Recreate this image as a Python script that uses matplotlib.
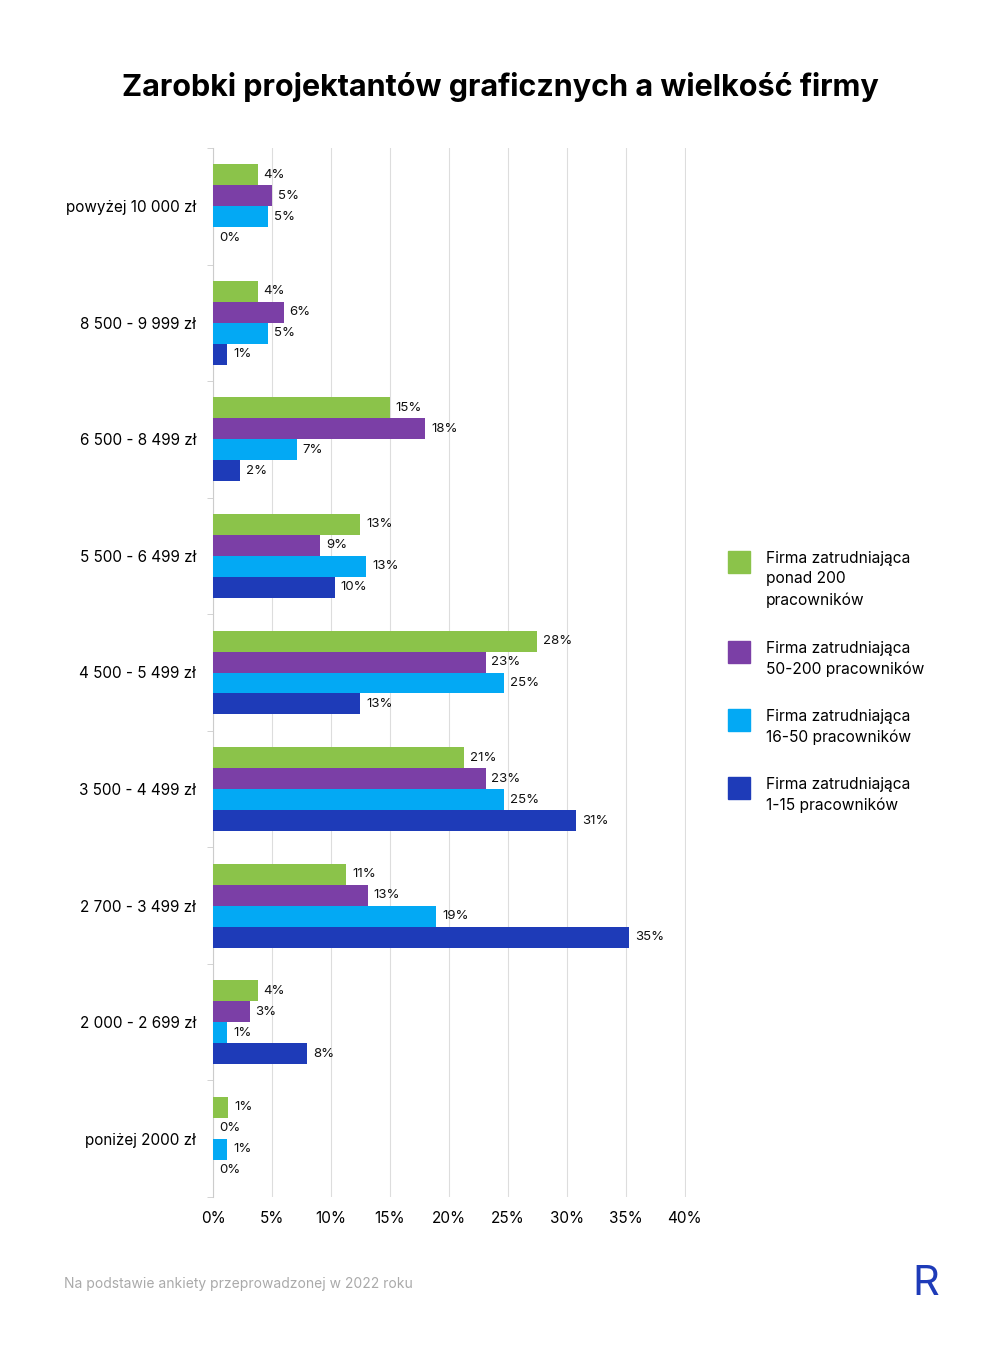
import matplotlib
matplotlib.use("Agg")
import matplotlib.pyplot as plt
from matplotlib.patches import Rectangle
import numpy as np

plt.rcParams['font.family'] = ['Inter', 'DejaVu Sans']

categories = ["powyżej 10 000 zł", "8 500 - 9 999 zł", "6 500 - 8 499 zł", "5 500 - 6 499 zł",
              "4 500 - 5 499 zł", "3 500 - 4 499 zł", "2 700 - 3 499 zł", "2 000 - 2 699 zł",
              "poniżej 2000 zł"]
big = [3.8, 3.8, 15.0, 12.5, 27.5, 21.3, 11.3, 3.8, 1.3]
mid = [5.0, 6.0, 18.0, 9.1, 23.1, 23.1, 13.1, 3.1, 0.0]
small = [4.7, 4.7, 7.1, 13.0, 24.7, 24.7, 18.9, 1.2, 1.2]
micro = [0.0, 1.2, 2.3, 10.3, 12.5, 30.8, 35.3, 8.0, 0.0]
big_lbl = [4, 4, 15, 13, 28, 21, 11, 4, 1]
mid_lbl = [5, 6, 18, 9, 23, 23, 13, 3, 0]
small_lbl = [5, 5, 7, 13, 25, 25, 19, 1, 1]
micro_lbl = [0, 1, 2, 10, 13, 31, 35, 8, 0]
series_names = ["Firma zatrudniająca\nponad 200\npracowników",
                "Firma zatrudniająca\n50-200 pracowników",
                "Firma zatrudniająca\n16-50 pracowników",
                "Firma zatrudniająca\n1-15 pracowników"]
colors = ["#8BC34A", "#7B3FA6", "#03A9F4", "#1E3BB8"]
xticks = [0, 5, 10, 15, 20, 25, 30, 35, 40]

fig = plt.figure(figsize=(10, 13.65), dpi=100)
ax = fig.add_axes([0.213, 1 - 1197 / 1365, 0.6855 - 0.213, (1197 - 148) / 1365])

series = [(big, big_lbl), (mid, mid_lbl), (small, small_lbl), (micro, micro_lbl)]
n = len(categories)
centers = n - 1 - np.arange(n)
bh = 0.18
for s, (vals, lbls) in enumerate(series):
    ys = centers + (1.5 - s) * bh
    ax.barh(ys, vals, height=bh, color=colors[s], zorder=3)
    for y, v, l in zip(ys, vals, lbls):
        ax.text(v + 0.5, y, f"{l}%", va="center", ha="left", fontsize=9.5, color="#111")

ax.set_xlim(0, 40.05)
ax.set_ylim(-0.5, n - 0.5)
ax.set_xticks(xticks)
ax.set_xticklabels([f"{t}%" for t in xticks], fontsize=11)
ax.set_yticks(centers)
ax.set_yticklabels(categories, fontsize=11)
ax.tick_params(axis='y', length=0, pad=12)
ax.tick_params(axis='x', length=0, pad=10)
ax.set_yticks(np.arange(n + 1) - 0.5, minor=True)
ax.tick_params(axis='y', which='minor', length=4, color="#ccc")
ax.grid(axis='x', color="#dddddd", lw=0.8, zorder=0)
for sp in ["top", "right", "bottom"]:
    ax.spines[sp].set_visible(False)
ax.spines["left"].set_color("#cccccc")

fig.text(0.5, 1 - 87 / 1365, "Zarobki projektantów graficznych a wielkość firmy",
         ha="center", va="center", fontsize=22, fontweight="bold")

leg_y = [562, 652, 720, 788]
for s in range(4):
    y = 1 - leg_y[s] / 1365
    fig.patches.append(Rectangle((0.728, y - 0.008), 0.022, 0.016, color=colors[s],
                                 transform=fig.transFigure, figure=fig))
    fig.text(0.766, y + 0.008, series_names[s], va="top", ha="left", fontsize=11.2,
             linespacing=1.45)

fig.text(0.064, 1 - 1284 / 1365, "Na podstawie ankiety przeprowadzonej w 2022 roku",
         fontsize=10, color="#aaaaaa", va="center")
fig.text(0.926, 1 - 1284 / 1365, "R", fontsize=30, color="#1E3BB8", va="center",
         ha="center")
fig.savefig("out.png", dpi=100, facecolor="white")
